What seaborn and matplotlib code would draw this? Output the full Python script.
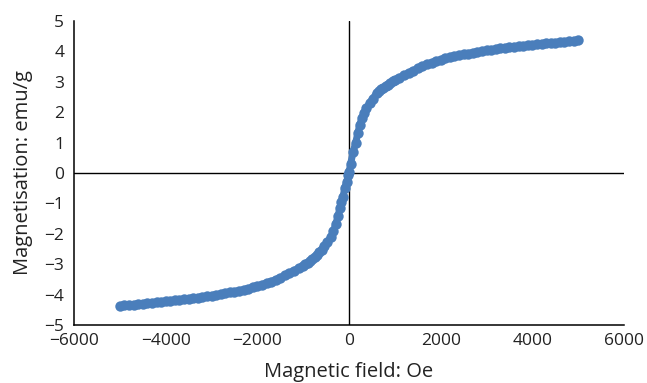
import matplotlib
matplotlib.use("Agg")
import matplotlib.pyplot as plt
import seaborn as sns
import pandas as pd

# Magnetic field (Oe) and magnetisation (emu/g)
field_neg = [-5000, -4900, -4800, -4700, -4600, -4500, -4400, -4300, -4200, -4100,
             -4000, -3900, -3800, -3700, -3600, -3500, -3400, -3300, -3200, -3100,
             -3000, -2900, -2800, -2700, -2600, -2500, -2400, -2300, -2200, -2100,
             -2000, -1900, -1800, -1700, -1600, -1500, -1400, -1300, -1200, -1100,
             -1000, -950, -900, -850, -800, -750, -700, -650, -600, -540,
             -470, -400, -340, -290, -240, -200, -170, -131, -94, -50, -13]
mag_neg = [-4.37, -4.35, -4.34, -4.33, -4.31, -4.30, -4.28, -4.27, -4.25, -4.24,
           -4.22, -4.20, -4.19, -4.17, -4.15, -4.14, -4.12, -4.10, -4.07, -4.05,
           -4.03, -4.01, -3.98, -3.96, -3.93, -3.90, -3.87, -3.84, -3.80, -3.76,
           -3.72, -3.67, -3.62, -3.57, -3.51, -3.44, -3.37, -3.29, -3.21, -3.13,
           -3.05, -3.00, -2.95, -2.90, -2.84, -2.77, -2.69, -2.61, -2.52, -2.40,
           -2.26, -2.12, -1.92, -1.68, -1.42, -1.15, -0.95, -0.79, -0.49, -0.28, -0.07]
field_pos = [0, 37, 87, 146, 190, 233, 280, 330, 380, 450,
             520, 600, 650, 700, 750, 800, 850, 900, 950, 1000,
             1100, 1200, 1300, 1400, 1500, 1600, 1700, 1800, 1900, 2000,
             2100, 2200, 2300, 2400, 2500, 2600, 2700, 2800, 2900, 3000,
             3100, 3200, 3300, 3400, 3500, 3600, 3700, 3800, 3900, 4000,
             4100, 4200, 4300, 4400, 4500, 4600, 4700, 4800, 4900, 5000]
mag_pos = [0.03, 0.31, 0.68, 1.00, 1.30, 1.58, 1.80, 1.98, 2.13, 2.30,
           2.45, 2.62, 2.69, 2.75, 2.80, 2.85, 2.90, 2.95, 3.01, 3.07,
           3.14, 3.21, 3.29, 3.37, 3.44, 3.51, 3.57, 3.63, 3.68, 3.72,
           3.77, 3.81, 3.84, 3.87, 3.90, 3.93, 3.96, 3.98, 4.01, 4.03,
           4.05, 4.07, 4.10, 4.12, 4.14, 4.15, 4.17, 4.19, 4.20, 4.22,
           4.23, 4.25, 4.26, 4.28, 4.29, 4.31, 4.32, 4.33, 4.35, 4.36]

x_ticks = [-6000, -4000, -2000, 0, 2000, 4000, 6000]
y_ticks = [-5, -4, -3, -2, -1, 0, 1, 2, 3, 4, 5]
x_label = "Magnetic field: Oe"
y_label = "Magnetisation: emu/g"

df = pd.DataFrame({"field": field_neg + field_pos, "mag": mag_neg + mag_pos})

sns.set_theme(style="white")
plt.rcParams["font.family"] = ["Open Sans", "DejaVu Sans"]

fig = plt.figure(figsize=(6.47, 3.83), dpi=100)
ax = fig.add_axes([74 / 647, 1 - 325 / 383, 550 / 647, 304 / 383])

color = "#4a7ebb"
sns.lineplot(data=df, x="field", y="mag", ax=ax, color=color, linewidth=5,
             marker="o", markersize=7.5, markeredgewidth=0, sort=False, zorder=3)

ax.axhline(0, color="black", linewidth=1.0, zorder=2)
ax.axvline(0, color="black", linewidth=1.0, zorder=2)

ax.set_xlim(x_ticks[0], x_ticks[-1])
ax.set_ylim(y_ticks[0], y_ticks[-1])
ax.set_xticks(x_ticks)
ax.set_yticks(y_ticks)
ax.tick_params(axis="both", length=0, labelsize=12.5, colors="#222222")
ax.tick_params(axis="y", pad=7)
ax.tick_params(axis="x", pad=6)

for s in ["top", "right"]:
    ax.spines[s].set_visible(False)
for s in ["left", "bottom"]:
    ax.spines[s].set_color("black")
    ax.spines[s].set_linewidth(1.1)

ax.set_xlabel(x_label, fontsize=14.5, color="#222222", labelpad=9)
ax.set_ylabel(y_label, fontsize=14.5, color="#222222", labelpad=8.5)
ax.grid(False)

fig.savefig("out.png", dpi=100)
